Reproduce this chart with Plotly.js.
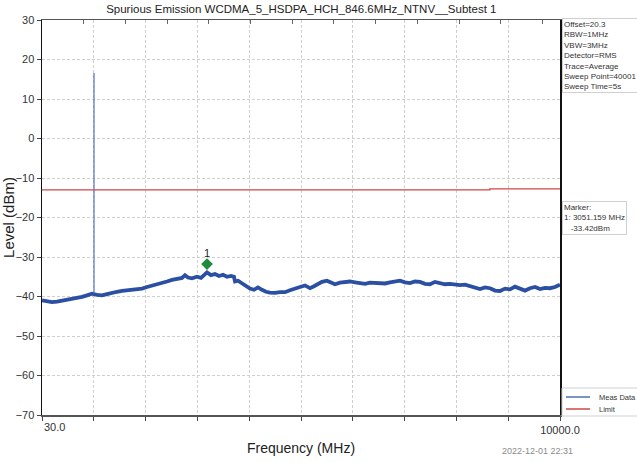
<!DOCTYPE html>
<html>
<head>
<meta charset="utf-8">
<script src="https://cdn.plot.ly/plotly-3.0.1.min.js"></script>
<style>html,body{margin:0;padding:0;background:#fff;}#chart{width:637px;height:462px;}</style>
</head>
<body>
<div id="chart"></div>
<script>
const measFreq = [30,126,222,319,415,511,607,704,800,896,992,1089,1185,1281,1377,1474,1570,1666,1762,1858,1955,2051,2147,2243,2340,2436,2532,2628,2725,2782,2840,2917,3013,3090,3129,3206,3283,3360,3437,3514,3591,3668,3725,3745,3803,3879,3956,4033,4110,4187,4264,4341,4418,4514,4611,4707,4803,4899,4996,5092,5188,5265,5342,5419,5515,5592,5669,5765,5862,5958,6054,6150,6247,6343,6439,6535,6632,6728,6824,6920,7017,7113,7209,7306,7402,7498,7594,7690,7787,7883,7979,8075,8172,8268,8364,8460,8557,8653,8749,8845,8942,9038,9134,9230,9326,9423,9519,9615,9711,9808,9904,10000];
const measLevel = [-41.0,-41.2,-41.4,-41.3,-41.1,-40.8,-40.6,-40.3,-40.1,-39.7,-39.3,-39.6,-39.7,-39.4,-39.0,-38.8,-38.6,-38.5,-38.3,-38.2,-38.0,-37.6,-37.3,-37.0,-36.6,-36.2,-35.8,-35.5,-35.3,-34.6,-35.2,-35.4,-35.0,-35.3,-34.9,-33.9,-34.6,-34.3,-34.8,-34.5,-35.0,-34.8,-35.0,-36.2,-36.0,-36.6,-37.4,-38.0,-38.3,-37.7,-38.3,-38.8,-39.0,-39.1,-38.9,-38.9,-38.4,-38.1,-37.6,-37.2,-37.9,-37.4,-36.8,-36.3,-36.0,-36.5,-36.9,-36.5,-36.4,-36.2,-36.4,-36.7,-36.8,-36.5,-36.5,-36.6,-36.7,-36.4,-36.1,-36.0,-36.4,-36.6,-36.2,-36.3,-36.8,-36.9,-36.3,-36.6,-36.9,-36.8,-37.0,-37.1,-37.0,-37.3,-37.6,-38.1,-37.7,-37.9,-38.5,-38.6,-38.0,-38.2,-37.5,-38.1,-38.5,-37.9,-37.6,-38.1,-37.8,-37.9,-37.6,-37.0];
// Carrier spike
const spikeFreq = [1031, 1031, 1031];
const spikeLevel = [-39.2, 16.6, -39.2];
// Limit line
const limitFreq = [30, 8650, 8650, 10000];
const limitLevel = [-13, -13, -12.75, -12.75];
// Marker
const markerFreq = [3206];
const markerLevel = [-31.8];
const markerLabel = ['1'];
// Axis ticks
const xTickVals = [30,1027,2024,3021,4018,5015,6012,7009,8006,9003,10000];
const xTickText = ['','','','','','','','','','','10000.0'];
const topTickVals = [0,1,2,3,4,5,6,7,8,9,10,11,12];
const infoLines = ['Offset=20.3','RBW=1MHz','VBW=3MHz','Detector=RMS','Trace=Average','Sweep Point=40001','Sweep Time=5s'];
const markerLines = ['Marker:','1: 3051.159 MHz','&nbsp;&nbsp;&nbsp;-33.42dBm'];
const legendNames = ['Meas Data', 'Limit'];
const legendColors = ['#4c72b0', '#d04848'];

const FONT = 'Liberation Sans, Arial, sans-serif';
const traces = [
  {x: measFreq, y: measLevel, type: 'scatter', mode: 'lines', name: legendNames[0],
   line: {color: '#2b4fa3', width: 3.8}, showlegend: false, hoverinfo: 'skip'},
  {x: spikeFreq, y: spikeLevel, type: 'scatter', mode: 'lines', name: legendNames[0],
   line: {color: '#5a73c4', width: 1.2}, showlegend: false, hoverinfo: 'skip'},
  {x: limitFreq, y: limitLevel, type: 'scatter', mode: 'lines', name: legendNames[1],
   line: {color: '#d04848', width: 1.3}, showlegend: false, hoverinfo: 'skip'},
  {x: markerFreq, y: markerLevel, type: 'scatter', mode: 'markers', showlegend: false,
   marker: {symbol: 'diamond', color: '#1f8a3c', size: 9}, hoverinfo: 'skip'},
  {x: [null], y: [null], xaxis: 'x2', type: 'scatter', showlegend: false, hoverinfo: 'skip'}
];

// pixel helpers for items placed outside the plot area (plot: x 42..560, y 20..415)
const px = v => (v - 42) / 518;
const py = v => (415 - v) / 395;

const annotations = [
  {x: markerFreq[0], y: markerLevel[0], xref: 'x', yref: 'y', text: markerLabel[0], showarrow: false,
   yshift: 11, font: {family: FONT, size: 11, color: '#222'}},
  {x: 30, xref: 'x', y: 0, yref: 'paper', yanchor: 'top', xanchor: 'left', yshift: -4, xshift: 0,
   text: '30.0', showarrow: false, font: {family: FONT, size: 11, color: '#333'}},
  {x: px(562), xref: 'paper', y: py(18), yref: 'paper', xanchor: 'left', yanchor: 'top', align: 'left',
   text: infoLines.join('<br>'), showarrow: false, bordercolor: '#d0d0d0', borderwidth: 1, borderpad: 1,
   bgcolor: '#fff', font: {family: FONT, size: 8, color: '#333'}},
  {x: px(562), xref: 'paper', y: py(201), yref: 'paper', xanchor: 'left', yanchor: 'top', align: 'left',
   text: markerLines.join('<br>'), showarrow: false, bordercolor: '#d0d0d0', borderwidth: 1, borderpad: 1,
   bgcolor: '#fff', font: {family: FONT, size: 8, color: '#333'}},
  {x: px(537), xref: 'paper', y: py(451), yref: 'paper', xanchor: 'center', yanchor: 'middle',
   showarrow: false, text: '2022-12-01 22:31', font: {family: FONT, size: 9, color: '#8a8a8a'}},
  {x: px(597), xref: 'paper', y: py(397), yref: 'paper', xanchor: 'left', yanchor: 'middle',
   showarrow: false, text: legendNames[0], font: {family: FONT, size: 7.5, color: '#333'}},
  {x: px(597), xref: 'paper', y: py(409), yref: 'paper', xanchor: 'left', yanchor: 'middle',
   showarrow: false, text: legendNames[1], font: {family: FONT, size: 7.5, color: '#333'}}
];

const shapes = [
  {type: 'rect', xref: 'paper', yref: 'paper', x0: px(562), x1: px(640), y0: py(416), y1: py(388),
   line: {color: '#d0d0d0', width: 1}, fillcolor: '#fff', layer: 'above'},
  {type: 'line', xref: 'paper', yref: 'paper', x0: px(566), x1: px(590), y0: py(397), y1: py(397),
   line: {color: legendColors[0], width: 1.5}},
  {type: 'line', xref: 'paper', yref: 'paper', x0: px(566), x1: px(590), y0: py(409), y1: py(409),
   line: {color: legendColors[1], width: 1.5}}
];

const layout = {
  width: 637, height: 462,
  margin: {l: 42, r: 77, t: 20, b: 47, pad: 0, autoexpand: false},
  paper_bgcolor: '#fff', plot_bgcolor: '#fff',
  font: {family: FONT, color: '#333'},
  title: {text: 'Spurious Emission WCDMA_5_HSDPA_HCH_846.6MHz_NTNV__Subtest 1',
          font: {family: FONT, size: 11.5, color: '#222'}, x: 0.473, xanchor: 'center', y: 0.98, yanchor: 'middle'},
  xaxis: {type: 'linear', range: [30, 10000], tickmode: 'array', tickvals: xTickVals, ticktext: xTickText,
          ticks: 'outside', ticklen: 4, tickcolor: '#444', showline: true, linecolor: '#555', linewidth: 1.5,
          mirror: false, showgrid: true, gridcolor: '#cfcfcf', griddash: '3px,2px', gridwidth: 1, zeroline: false,
          tickfont: {family: FONT, size: 11, color: '#333'},
          title: {text: 'Frequency (MHz)', font: {family: FONT, size: 14, color: '#222'}, standoff: 8}},
  xaxis2: {overlaying: 'x', side: 'top', range: [0, 12.42], tickmode: 'array', tickvals: topTickVals,
           ticks: 'inside', ticklen: 4, tickcolor: '#666', showticklabels: false, showgrid: false,
           showline: true, linecolor: '#555', linewidth: 1.2, zeroline: false},
  yaxis: {range: [-70, 30], dtick: 10, tick0: 0, ticks: 'outside', ticklen: 4, tickcolor: '#444',
          showline: true, linecolor: '#111', linewidth: 1.5, mirror: true,
          showgrid: true, gridcolor: '#cfcfcf', griddash: '3px,2px', gridwidth: 1, zeroline: false,
          tickfont: {family: FONT, size: 11, color: '#333'},
          title: {text: 'Level (dBm)', font: {family: FONT, size: 15, color: '#222'}, standoff: 0}},
  showlegend: false,
  annotations: annotations,
  shapes: shapes
};

Plotly.newPlot('chart', traces, layout, {staticPlot: true, displayModeBar: false});
</script>
</body>
</html>
